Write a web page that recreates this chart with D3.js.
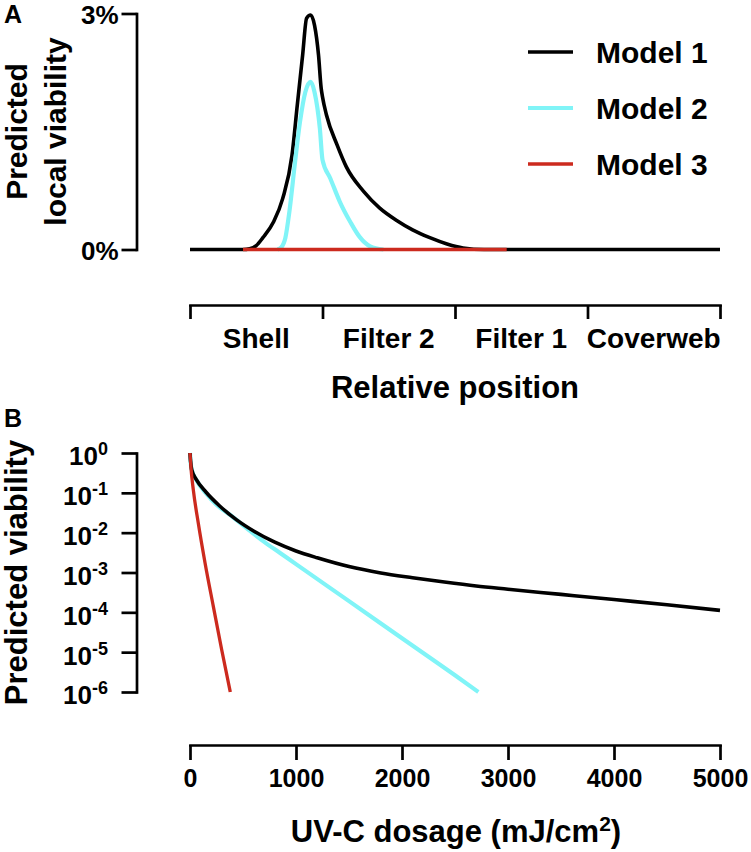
<!DOCTYPE html>
<html>
<head>
<meta charset="utf-8">
<script src="https://cdn.jsdelivr.net/npm/d3@7"></script>
<style>
  html, body { margin: 0; padding: 0; background: #fff; }
  svg { display: block; }
  text { font-family: "Liberation Sans", Arial, Helvetica, sans-serif; font-weight: bold; fill: #000; }
</style>
</head>
<body>
<svg id="chart" width="751" height="852"></svg>
<script>
// ---------- Panel A data ----------
const layerLabels = ["Shell", "Filter 2", "Filter 1", "Coverweb"];
const layerBounds = [0, 1, 2, 3, 4];
const yTicksA = [0, 3];

const m1PosA = [0, 0.40, 0.45, 0.50, 0.55, 0.63, 0.70, 0.77, 0.81, 0.85, 0.88, 0.91, 0.94, 0.97, 0.99, 1.00, 1.03, 1.11, 1.18, 1.31, 1.43, 1.56, 1.68, 1.81, 1.94, 2.06, 2.22, 4.0];
const m1ValA = [0, 0, 0.01, 0.05, 0.15, 0.35, 0.65, 1.20, 1.84, 2.47, 2.94, 2.98, 2.85, 2.47, 2.05, 1.94, 1.71, 1.33, 1.05, 0.74, 0.53, 0.37, 0.25, 0.15, 0.07, 0.02, 0, 0];

const m2PosA = [0.66, 0.69, 0.72, 0.75, 0.79, 0.83, 0.87, 0.91, 0.94, 0.98, 1.00, 1.06, 1.13, 1.21, 1.28, 1.36, 1.46];
const m2ValA = [0, 0.03, 0.15, 0.48, 1.07, 1.62, 2.00, 2.13, 2.00, 1.54, 1.14, 0.90, 0.61, 0.35, 0.16, 0.04, 0];

const m3PosA = [0.40, 2.39];
const m3ValA = [0, 0];

// ---------- Panel B data ----------
const doseTicks = [0, 1000, 2000, 3000, 4000, 5000];
const viabTicks = [1, 1e-1, 1e-2, 1e-3, 1e-4, 1e-5, 1e-6];
const viabExponents = ["0", "-1", "-2", "-3", "-4", "-5", "-6"];

const m1Dose = [0, 5, 16, 60, 150, 280, 440, 600, 800, 1000, 1200, 1500, 1800, 2100, 2400, 2700, 3000, 3500, 4000, 4500, 5000];
const m1Viab = [1, 0.631, 0.380, 0.214, 0.105, 0.0468, 0.0209, 0.0110, 0.00575, 0.00347, 0.00234, 0.00141, 0.000977, 0.000741, 0.000575, 0.000457, 0.000380, 0.000282, 0.000209, 0.000155, 0.000112];

const m2Dose = [0, 5, 16, 60, 150, 250, 377, 550, 700, 850, 1000, 1500, 2000, 2500, 2720];
const m2Viab = [1, 0.631, 0.380, 0.21, 0.098, 0.050, 0.0282, 0.0120, 0.00589, 0.00309, 0.00162, 0.000191, 0.0000224, 0.00000263, 0.000001];

const m3Dose = [0, 10, 31, 78, 142, 220, 299, 380];
const m3Viab = [1, 0.40, 0.12, 0.0174, 0.00174, 0.000141, 0.0000115, 0.000001];

const seriesNames = ["Model 1", "Model 2", "Model 3"];
const seriesColors = ["#000000", "#80F4F7", "#CC2A1E"];
const seriesWidths = [3.6, 4.2, 3.3];

// ---------- Drawing ----------
const svg = d3.select("#chart");
const axisW = 2.7;

function styleAxis(g, fontSize) {
  g.select(".domain").attr("stroke", "#000").attr("stroke-width", axisW).attr("stroke-linecap", "square");
  g.selectAll(".tick line").attr("stroke", "#000").attr("stroke-width", axisW);
  g.selectAll(".tick text").attr("font-size", fontSize + "px").attr("font-weight", "bold")
    .attr("font-family", '"Liberation Sans", Arial, sans-serif').attr("fill", "#000");
  g.attr("font-family", null).attr("font-size", null);
}

// Panel A
const xA = d3.scaleLinear().domain([0, 4]).range([190, 720]);
const yA = d3.scaleLinear().domain([0, 3]).range([249.5, 13.5]);

const gAy = svg.append("g").attr("transform", "translate(136.5,0)")
  .call(d3.axisLeft(yA).tickValues(yTicksA).tickFormat(d => d + "%").tickSize(15).tickSizeOuter(0).tickPadding(3));
styleAxis(gAy, 26);
gAy.selectAll(".tick text").attr("dy", "0.4em");

const gAx = svg.append("g").attr("transform", "translate(0,305)")
  .call(d3.axisBottom(xA).tickValues(layerBounds).tickFormat("").tickSize(14).tickSizeOuter(0));
styleAxis(gAx, 28);

svg.append("g").selectAll("text").data(layerLabels).join("text")
  .attr("x", (d, i) => xA(layerBounds[i] + 0.5)).attr("y", 348)
  .attr("text-anchor", "middle").attr("font-size", "28px").text(d => d);

svg.append("text").attr("x", 455).attr("y", 398).attr("text-anchor", "middle")
  .attr("font-size", "31px").text("Relative position");

svg.append("text").attr("transform", "translate(27,131.5) rotate(-90)").attr("text-anchor", "middle")
  .attr("font-size", "30px").text("Predicted");
svg.append("text").attr("transform", "translate(66,131.5) rotate(-90)").attr("text-anchor", "middle")
  .attr("font-size", "30px").text("local viability");

svg.append("text").attr("x", 4).attr("y", 23).attr("font-size", "25px").text("A");

const lineA = d3.line().x(d => xA(d[0])).y(d => yA(d[1])).curve(d3.curveMonotoneX);
const seriesA = [
  d3.zip(m1PosA, m1ValA),
  d3.zip(m2PosA, m2ValA),
  d3.zip(m3PosA, m3ValA)
];
seriesA.forEach((s, i) => {
  svg.append("path").datum(s).attr("d", lineA).attr("fill", "none")
    .attr("stroke", seriesColors[i]).attr("stroke-width", seriesWidths[i])
    .attr("stroke-linejoin", "round").attr("stroke-linecap", "butt");
});

// Legend
const legend = svg.append("g");
seriesNames.forEach((n, i) => {
  const y = 52 + i * 56;
  legend.append("line").attr("x1", 528).attr("x2", 573).attr("y1", y).attr("y2", y)
    .attr("stroke", seriesColors[i]).attr("stroke-width", seriesWidths[i]);
  legend.append("text").attr("x", 596).attr("y", y + 11).attr("font-size", "30px").text(n);
});

// Panel B
const xB = d3.scaleLinear().domain([0, 5000]).range([190, 720]);
const yB = d3.scaleLog().domain([1e-6, 1]).range([692, 453]);

const gBy = svg.append("g").attr("transform", "translate(136.5,0)")
  .call(d3.axisLeft(yB).tickValues(viabTicks).tickSize(15).tickSizeOuter(0).tickPadding(13.5));
styleAxis(gBy, 26);
gBy.selectAll(".tick text").each(function(d, i) {
  const t = d3.select(this).text(null).attr("dy", "0.46em");
  t.append("tspan").text("10");
  t.append("tspan").attr("dy", "-10").attr("font-size", "18px").text(viabExponents[i]);
});

const gBx = svg.append("g").attr("transform", "translate(0,745)")
  .call(d3.axisBottom(xB).tickValues(doseTicks).tickFormat(d3.format("d")).tickSize(15).tickSizeOuter(0).tickPadding(9));
styleAxis(gBx, 25);

const xt = svg.append("text").attr("x", 456).attr("y", 842).attr("text-anchor", "middle").attr("font-size", "31px");
xt.append("tspan").text("UV-C dosage (mJ/cm");
xt.append("tspan").attr("dy", "-11").attr("font-size", "21px").text("2");
xt.append("tspan").attr("dy", "11").attr("font-size", "31px").text(")");

svg.append("text").attr("transform", "translate(27,572.5) rotate(-90)").attr("text-anchor", "middle")
  .attr("font-size", "31px").text("Predicted viability");

svg.append("text").attr("x", 4).attr("y", 427).attr("font-size", "25px").text("B");

const lineB = d3.line().x(d => xB(d[0])).y(d => yB(d[1])).curve(d3.curveMonotoneX);
const seriesB = [
  d3.zip(m1Dose, m1Viab),
  d3.zip(m2Dose, m2Viab),
  d3.zip(m3Dose, m3Viab)
];
// draw cyan first, then black, then red
[1, 0, 2].forEach(i => {
  svg.append("path").datum(seriesB[i]).attr("d", lineB).attr("fill", "none")
    .attr("stroke", seriesColors[i]).attr("stroke-width", seriesWidths[i])
    .attr("stroke-linejoin", "round");
});
</script>
</body>
</html>
